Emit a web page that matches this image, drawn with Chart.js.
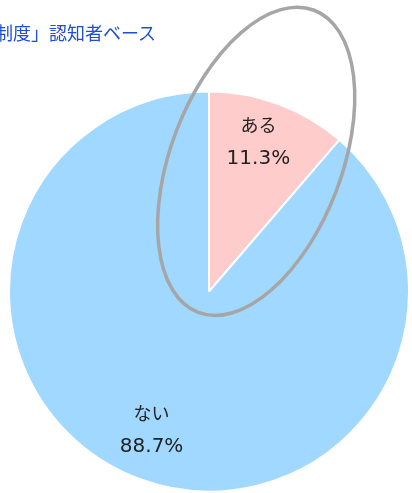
<!DOCTYPE html>
<html>
<head>
<meta charset="utf-8">
<script src="https://cdn.jsdelivr.net/npm/chart.js@4"></script>
<style>
  html,body{margin:0;padding:0;background:#fff;}
  #wrap{position:relative;width:412px;height:493px;overflow:hidden;}
  #title{position:absolute;left:-5px;top:23px;font-family:"Noto Sans CJK JP",sans-serif;font-size:18px;color:#1f4fd0;white-space:nowrap;line-height:1;}
  canvas{position:absolute;left:0;top:0;}
</style>
</head>
<body>
<div id="wrap">
  <canvas id="pie" width="412" height="493"></canvas>
  <div id="title">制度」認知者ベース</div>
</div>
<script>
// pie data
const labels = ["ある", "ない"];
const values = [11.3, 88.7];
const sliceColors = ["#FFCCCC", "#A0D8FF"];

// labels in the slices, "name" on top and percent under it
const sliceLabels = {
  id: "sliceLabels",
  afterDatasetsDraw(chart){
    const ctx = chart.ctx;
    const meta = chart.getDatasetMeta(0);
    ctx.save();
    ctx.fillStyle = "#222";
    ctx.textAlign = "center";
    ctx.textBaseline = "middle";
    meta.data.forEach((arc, i)=>{
      const mid = (arc.startAngle + arc.endAngle) / 2;
      const r = arc.outerRadius * 0.768;
      const x = arc.x + Math.cos(mid) * r - 4;
      const y = arc.y + Math.sin(mid) * r - 6;
      ctx.font = "18px 'Noto Sans CJK JP', sans-serif";
      ctx.fillText(labels[i], x, y - 16);
      ctx.font = "20px 'DejaVu Sans', sans-serif";
      ctx.fillText(values[i].toFixed(1) + "%", x, y + 17);
    });
    ctx.restore();
  }
};

// gray ring drawn around the "ある" slice
const highlightRing = {
  id: "highlightRing",
  afterDatasetsDraw(chart){
    const arc = chart.getDatasetMeta(0).data[0];
    const ctx = chart.ctx;
    const R = arc.outerRadius;
    ctx.save();
    ctx.strokeStyle = "#A6A6A6";
    ctx.lineWidth = 3.5;
    ctx.beginPath();
    ctx.ellipse(arc.x + R * 0.236, arc.y - R * 0.651, R * 0.427, R * 0.809, 21 * Math.PI / 180, 0, Math.PI * 2);
    ctx.stroke();
    ctx.restore();
  }
};

new Chart(document.getElementById("pie").getContext("2d"), {
  type: "pie",
  data: {
    labels: labels,
    datasets: [{
      data: values,
      backgroundColor: sliceColors,
      borderColor: "#ffffff",
      borderWidth: 2
    }]
  },
  options: {
    responsive: false,
    animation: false,
    layout: {padding: {left: 8, right: 2, top: 90, bottom: 0}},
    plugins: {legend: {display: false}, tooltip: {enabled: false}, title: {display: false}}
  },
  plugins: [sliceLabels, highlightRing]
});
</script>
</body>
</html>
